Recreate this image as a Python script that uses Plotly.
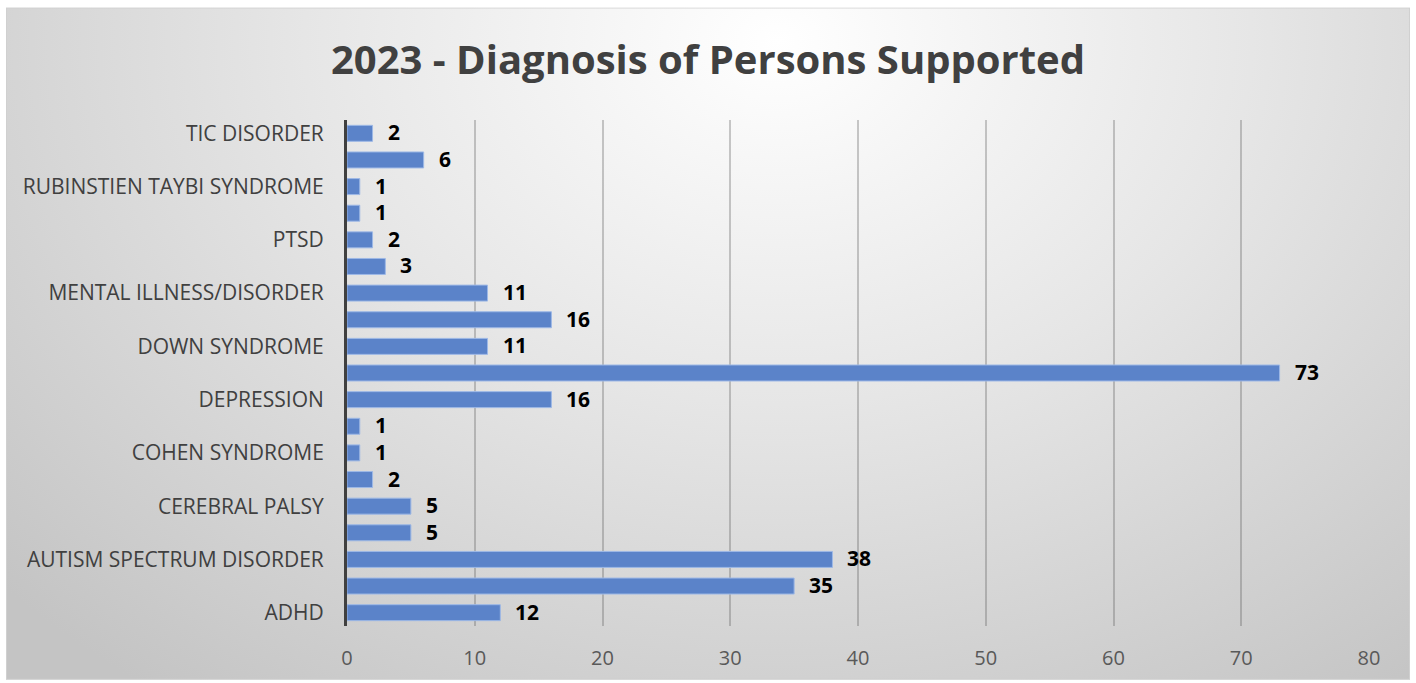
import base64
import plotly.graph_objects as go

# Diagnoses, listed bottom to top; every other row carries a printed label
labels = [
    "ADHD", "", "AUTISM SPECTRUM DISORDER", "", "CEREBRAL PALSY", "",
    "COHEN SYNDROME", "", "DEPRESSION", "", "DOWN SYNDROME", "",
    "MENTAL ILLNESS/DISORDER", "", "PTSD", "", "RUBINSTIEN TAYBI SYNDROME",
    "", "TIC DISORDER",
]
counts = [12, 35, 38, 5, 5, 2, 1, 1, 16, 73, 11, 16, 11, 3, 2, 1, 1, 6, 2]
x_ticks = [0, 10, 20, 30, 40, 50, 60, 70, 80]

rows = list(range(len(counts)))
tick_rows = [r for r, lab in zip(rows, labels) if lab]
tick_text = [lab for lab in labels if lab]

W, H = 1416, 683
L, R, T, B = 347, 47, 120, 55
pw, ph = W - L - R, H - T - B

# soft radial backdrop behind the whole chart box
svg = """<svg xmlns='http://www.w3.org/2000/svg' width='1404' height='675'>
<defs><radialGradient id='g' cx='0.55' cy='0.05' r='0.75' gradientUnits='objectBoundingBox'
 gradientTransform='translate(0.55,0.05) scale(1,1.6) translate(-0.55,-0.05)'>
<stop offset='0' stop-color='#ffffff'/><stop offset='0.45' stop-color='#e6e6e6'/>
<stop offset='1' stop-color='#c4c4c4'/></radialGradient></defs>
<rect width='1404' height='675' fill='url(#g)'/>
<rect x='0.5' y='0.5' width='1403' height='674' fill='none' stroke='#d0d0d0'/>
</svg>"""
bg_uri = "data:image/svg+xml;base64," + base64.b64encode(svg.encode()).decode()

box_x0, box_y0, box_w, box_h = 6, 7, 1404, 675

fig = go.Figure()
fig.add_trace(go.Bar(
    x=counts, y=rows, orientation="h",
    marker=dict(color="#5b83c9", line=dict(color="#9db8e6", width=1)),
    width=0.6, hoverinfo="x+y",
))

for r, v in zip(rows, counts):
    fig.add_annotation(
        x=v, y=r, text=f"<b>{v}</b>", showarrow=False,
        xanchor="left", yanchor="middle", xshift=13, yshift=1,
        font=dict(family="Open Sans", size=21, color="#000000"),
    )

fig.add_layout_image(
    source=bg_uri, xref="paper", yref="paper",
    x=(box_x0 - L) / pw, y=(H - B - box_y0) / ph,
    sizex=box_w / pw, sizey=box_h / ph,
    xanchor="left", yanchor="top", sizing="stretch", layer="below",
)

fig.update_layout(
    width=W, height=H,
    margin=dict(l=L, r=R, t=T, b=B),
    paper_bgcolor="#ffffff", plot_bgcolor="rgba(0,0,0,0)",
    showlegend=False,
    title=dict(
        text="<b>2023 - Diagnosis of Persons Supported</b>",
        x=0.5, xanchor="center", y=1 - 60 / H, yanchor="middle",
        font=dict(family="Open Sans", size=40, color="#404040"),
    ),
    xaxis=dict(
        range=[0, 80], tickvals=x_ticks, showgrid=True,
        gridcolor="rgba(90,90,90,0.32)", gridwidth=1.5,
        zeroline=False, showline=False,
        ticks="outside", ticklen=14, tickcolor="rgba(0,0,0,0)",
        tickfont=dict(family="Open Sans", size=20, color="#595959"),
        fixedrange=True,
    ),
    yaxis=dict(
        range=[-0.5, 18.5], tickvals=tick_rows, ticktext=tick_text,
        showgrid=False, zeroline=False,
        showline=True, linecolor="#404040", linewidth=3,
        ticks="outside", ticklen=16, tickcolor="rgba(0,0,0,0)",
        tickfont=dict(family="Open Sans", size=21, color="#404040"),
        fixedrange=True,
    ),
)

fig.write_html("out.html")
